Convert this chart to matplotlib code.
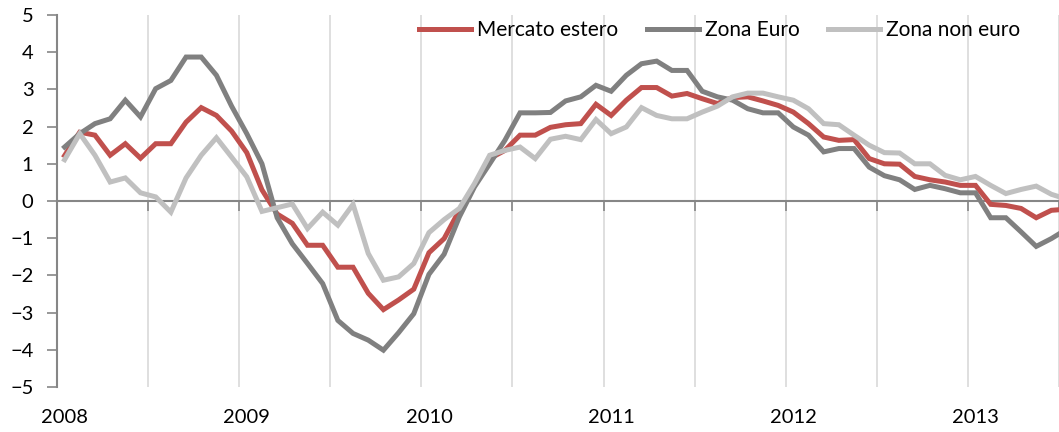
import matplotlib
matplotlib.use("Agg")
import matplotlib.pyplot as plt

# monthly series, Jan 2008 -> Jul 2013
mercato_estero = [1.22, 1.85, 1.77, 1.23, 1.54, 1.15, 1.54, 1.54, 2.12, 2.51,
                  2.30, 1.88, 1.30, 0.30, -0.35, -0.60, -1.19, -1.19, -1.78, -1.78,
                  -2.48, -2.92, -2.66, -2.37, -1.39, -1.01, -0.25, 0.42, 1.14, 1.36,
                  1.77, 1.77, 1.98, 2.05, 2.08, 2.60, 2.30, 2.71, 3.05, 3.05,
                  2.82, 2.89, 2.75, 2.62, 2.78, 2.80, 2.69, 2.57, 2.39, 2.08,
                  1.72, 1.63, 1.65, 1.14, 1.00, 0.99, 0.66, 0.57, 0.51, 0.42,
                  0.42, -0.09, -0.12, -0.20, -0.45, -0.25, -0.22]
zona_euro = [1.45, 1.81, 2.08, 2.21, 2.71, 2.26, 3.02, 3.24, 3.87, 3.87,
             3.38, 2.55, 1.81, 1.00, -0.45, -1.15, -1.68, -2.22, -3.21, -3.56,
             -3.74, -4.01, -3.54, -3.03, -1.97, -1.43, -0.43, 0.38, 1.00, 1.63,
             2.37, 2.37, 2.38, 2.69, 2.80, 3.11, 2.95, 3.38, 3.69, 3.76,
             3.51, 3.51, 2.95, 2.80, 2.71, 2.48, 2.37, 2.37, 1.99, 1.77,
             1.32, 1.41, 1.41, 0.91, 0.68, 0.57, 0.31, 0.42, 0.33, 0.22,
             0.22, -0.45, -0.45, -0.83, -1.22, -1.01, -0.76]
zona_non_euro = [1.11, 1.81, 1.23, 0.51, 0.62, 0.22, 0.11, -0.30, 0.62, 1.23,
                 1.70, 1.18, 0.65, -0.28, -0.18, -0.08, -0.74, -0.30, -0.65, -0.09,
                 -1.41, -2.13, -2.04, -1.68, -0.85, -0.50, -0.20, 0.47, 1.23, 1.36,
                 1.45, 1.14, 1.66, 1.74, 1.65, 2.19, 1.81, 1.99, 2.51, 2.30,
                 2.21, 2.21, 2.39, 2.55, 2.80, 2.90, 2.90, 2.80, 2.71, 2.48,
                 2.08, 2.05, 1.77, 1.50, 1.30, 1.29, 1.00, 1.00, 0.69, 0.57,
                 0.66, 0.42, 0.20, 0.31, 0.40, 0.18, 0.05]
years = ["2008", "2009", "2010", "2011", "2012", "2013"]
series_names = ["Mercato estero", "Zona Euro", "Zona non euro"]

plt.rcParams['font.family'] = ['Lato', 'DejaVu Sans']

fig = plt.figure(figsize=(10.59, 4.32), dpi=100)
ax = fig.add_axes([57 / 1059, 1 - 387 / 432, 1002 / 1059, 372 / 432])

x = [i + 0.5 for i in range(len(mercato_estero))]
colors = ['#C0504D', '#808080', '#C0C0C0']
for vals, name, c in zip([mercato_estero, zona_euro, zona_non_euro], series_names, colors):
    ax.plot(x, vals, color=c, linewidth=3.6, label=name, solid_joinstyle='miter', zorder=3)

ax.set_xlim(0, 66)
ax.set_ylim(-5, 5)

# half-year boundaries: gridlines + ticks on the zero line
ax.set_xticks(range(0, 67, 6))
ax.tick_params(axis='x', which='major', direction='out', length=7, width=1.2,
               color='#868686', labelbottom=False)
ax.grid(axis='x', color='#D9D9D9', linewidth=1.2, zorder=0)

ax.spines['bottom'].set_position(('data', 0))
ax.spines['bottom'].set_color('#868686')
ax.spines['bottom'].set_linewidth(1.5)
ax.spines['left'].set_color('#868686')
ax.spines['left'].set_linewidth(1.5)
ax.spines['top'].set_visible(False)
ax.spines['right'].set_visible(False)

ax.set_yticks(range(-5, 6))
ax.tick_params(axis='y', direction='out', length=7, width=1.2, color='#868686',
               labelsize=14.5, pad=10)

# year labels under the plot
sec = ax.secondary_xaxis(location=0)
sec.set_xticks([12 * k + 0.5 for k in range(len(years))], labels=years)
sec.tick_params(length=0, labelsize=14.5, pad=16)
sec.spines['bottom'].set_visible(False)

ax.legend(loc='center left', bbox_to_anchor=(419 / 1059, 1 - 30 / 432),
          bbox_transform=fig.transFigure, ncol=3, frameon=False, fontsize=15,
          handlelength=2.5, handletextpad=0.3, columnspacing=1.35,
          borderpad=0, borderaxespad=0)

fig.savefig("out.png", dpi=100)
